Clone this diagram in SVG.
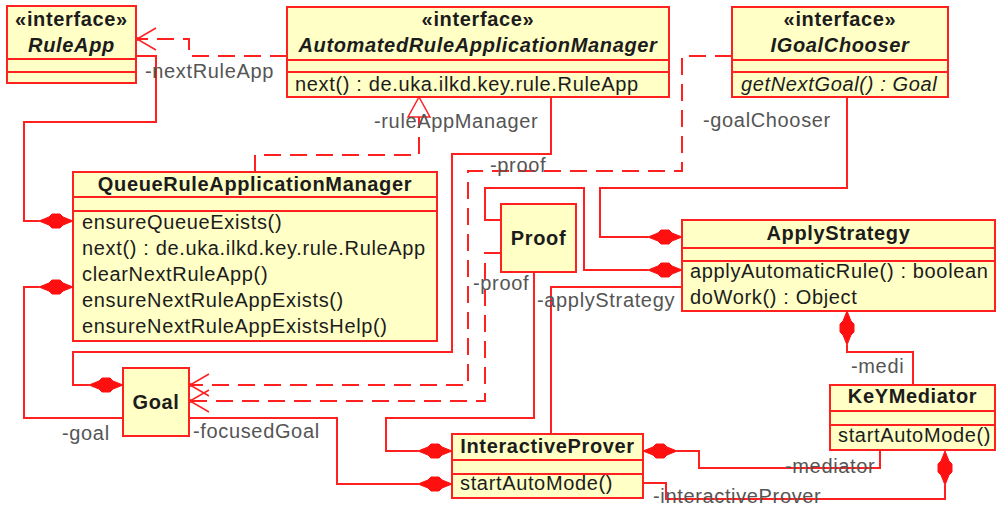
<svg xmlns="http://www.w3.org/2000/svg" width="996" height="511" viewBox="0 0 996 511">
  <style>
    .box { fill: #ffffc6; stroke: #ff2020; stroke-width: 2; }
    .div { stroke: #ff2020; stroke-width: 2; }
    text { font-family: "Liberation Sans", Arial, sans-serif; font-size: 20px; letter-spacing: 0.65px; fill: #1c1c1c; }
    .name { font-weight: bold; text-anchor: middle; }
    .abs { font-style: italic; }
    .lbl { fill: #555555; }
    .ln { fill: none; stroke: #ff2020; stroke-width: 2; }
    .dash { stroke-dasharray: 17 9; }
    .dia { fill: #ff1010; stroke: #ff1010; stroke-width: 1; }
    .open { fill: none; stroke: #ff2020; stroke-width: 1.5; }
  </style>
  <defs>
    <!-- filled composition diamond, tip at origin, pointing along +x -->
    <path id="dia" class="dia" d="M0,0 L10,-4 L13,-7 L21,-7 L24,-4 L34,0 L24,4 L21,7 L13,7 L10,4 Z"/>
    <!-- open arrowhead of a dependency, tip at origin, opening toward +x -->
    <g id="arr">
      <path class="open" d="M19,-11 L0,0 L19,11"/>
      <circle r="2" fill="#ff2020"/>
    </g>
  </defs>
  <rect width="996" height="511" fill="#ffffff"/>

  <!-- classes -->
  <g id="RuleApp">
    <rect class="box" x="7" y="6" width="129" height="77"/>
    <line class="div" x1="7" y1="59" x2="136" y2="59"/>
    <line class="div" x1="7" y1="72" x2="136" y2="72"/>
    <text class="name" x="71.5" y="26">«interface»</text>
    <text class="name abs" x="71.5" y="52">RuleApp</text>
  </g>

  <g id="AutomatedRuleApplicationManager">
    <rect class="box" x="287" y="7" width="382" height="90"/>
    <line class="div" x1="287" y1="60" x2="669" y2="60"/>
    <line class="div" x1="287" y1="72" x2="669" y2="72"/>
    <text class="name" x="478" y="26">«interface»</text>
    <text class="name abs" x="478" y="52">AutomatedRuleApplicationManager</text>
    <text x="295" y="91">next() : de.uka.ilkd.key.rule.RuleApp</text>
  </g>

  <g id="IGoalChooser">
    <rect class="box" x="732" y="7" width="216" height="90"/>
    <line class="div" x1="732" y1="60" x2="948" y2="60"/>
    <line class="div" x1="732" y1="72" x2="948" y2="72"/>
    <text class="name" x="840" y="26">«interface»</text>
    <text class="name abs" x="840" y="52">IGoalChooser</text>
    <text class="abs" x="741" y="91">getNextGoal() : Goal</text>
  </g>

  <g id="QueueRuleApplicationManager">
    <rect class="box" x="73" y="172" width="364" height="169"/>
    <line class="div" x1="73" y1="197" x2="437" y2="197"/>
    <line class="div" x1="73" y1="211" x2="437" y2="211"/>
    <text class="name" x="255" y="191">QueueRuleApplicationManager</text>
    <text x="82" y="229">ensureQueueExists()</text>
    <text x="82" y="255">next() : de.uka.ilkd.key.rule.RuleApp</text>
    <text x="82" y="281">clearNextRuleApp()</text>
    <text x="82" y="307">ensureNextRuleAppExists()</text>
    <text x="82" y="333">ensureNextRuleAppExistsHelp()</text>
  </g>

  <g id="Goal">
    <rect class="box" x="123" y="368" width="66" height="68"/>
    <text class="name" x="156" y="409">Goal</text>
  </g>

  <g id="Proof">
    <rect class="box" x="501" y="204" width="75" height="68"/>
    <text class="name" x="538.5" y="245">Proof</text>
  </g>

  <g id="ApplyStrategy">
    <rect class="box" x="682" y="220" width="313" height="91"/>
    <line class="div" x1="682" y1="248" x2="995" y2="248"/>
    <line class="div" x1="682" y1="261" x2="995" y2="261"/>
    <text class="name" x="838.5" y="240">ApplyStrategy</text>
    <text x="690" y="278">applyAutomaticRule() : boolean</text>
    <text x="690" y="304">doWork() : Object</text>
  </g>

  <g id="KeYMediator">
    <rect class="box" x="830" y="385" width="165" height="65"/>
    <line class="div" x1="830" y1="411" x2="995" y2="411"/>
    <line class="div" x1="830" y1="425" x2="995" y2="425"/>
    <text class="name" x="912.5" y="403">KeYMediator</text>
    <text x="838" y="442">startAutoMode()</text>
  </g>

  <g id="InteractiveProver">
    <rect class="box" x="452" y="434" width="191" height="64"/>
    <line class="div" x1="452" y1="460" x2="643" y2="460"/>
    <line class="div" x1="452" y1="474" x2="643" y2="474"/>
    <text class="name" x="547.5" y="453">InteractiveProver</text>
    <text x="460" y="490">startAutoMode()</text>
  </g>

  <!-- associations, dependencies and the realization -->
  <g id="connectors">
    <!-- AutomatedRuleApplicationManager uses RuleApp -->
    <path class="ln dash" d="M287,56 H189 V39 H138"/>
    <use href="#arr" transform="translate(137,39)"/>

    <!-- QueueRuleApplicationManager realizes AutomatedRuleApplicationManager -->
    <path class="ln dash" d="M255,172 V155 H419 V117"/>
    <polygon points="419,97 408,117 430,117" fill="#ffffff" stroke="#ff2020" stroke-width="1.5"/>

    <!-- ruleAppManager -->
    <path class="ln" d="M551,97 V154 H452 V352 H73 V385 H89"/>
    <use href="#dia" transform="translate(89,385)"/>

    <!-- nextRuleApp -->
    <path class="ln" d="M136,56 H156 V122 H24 V221 H39"/>
    <use href="#dia" transform="translate(39,221)"/>

    <!-- goal -->
    <path class="ln" d="M123,418 H24 V287 H39"/>
    <use href="#dia" transform="translate(39,287)"/>

    <!-- focusedGoal -->
    <path class="ln" d="M189,418 H337 V484 H418"/>
    <use href="#dia" transform="translate(418,484)"/>

    <!-- IGoalChooser uses Goal -->
    <path class="ln dash" d="M732,56 H682 V171 H468 V385 H191"/>
    <use href="#arr" transform="translate(190,385)"/>

    <!-- Proof uses Goal -->
    <path class="ln dash" d="M501,253 H485 V401 H191"/>
    <use href="#arr" transform="translate(190,401)"/>

    <!-- goalChooser -->
    <path class="ln" d="M847,97 V188 H600 V237 H648"/>
    <use href="#dia" transform="translate(648,237)"/>

    <!-- proof (ApplyStrategy) -->
    <path class="ln" d="M501,220 H485 V188 H584 V270 H648"/>
    <use href="#dia" transform="translate(648,270)"/>

    <!-- applyStrategy -->
    <path class="ln" d="M682,287 H551 V434"/>

    <!-- proof (InteractiveProver) -->
    <path class="ln" d="M534,272 V418 H386 V451 H418"/>
    <use href="#dia" transform="translate(418,451)"/>

    <!-- mediator -->
    <path class="ln" d="M880,450 V468 H699 V451 H677"/>
    <use href="#dia" transform="translate(643,451)"/>

    <!-- interactiveProver -->
    <path class="ln" d="M643,483 H666 V499 H945 V485"/>
    <use href="#dia" transform="translate(945,451) rotate(90)"/>

    <!-- medi -->
    <path class="ln" d="M913,385 V352 H847 V345"/>
    <use href="#dia" transform="translate(847,311) rotate(90)"/>
  </g>

  <!-- role names -->
  <g id="labels">
    <text class="lbl" x="145" y="78">-nextRuleApp</text>
    <text class="lbl" x="374" y="128">-ruleAppManager</text>
    <text class="lbl" x="703" y="127">-goalChooser</text>
    <text class="lbl" x="490" y="172">-proof</text>
    <text class="lbl" x="473" y="290">-proof</text>
    <text class="lbl" x="537" y="307">-applyStrategy</text>
    <text class="lbl" x="62" y="440">-goal</text>
    <text class="lbl" x="193" y="438">-focusedGoal</text>
    <text class="lbl" x="851" y="373">-medi</text>
    <text class="lbl" x="785" y="473">-mediator</text>
    <text class="lbl" x="653" y="503">-interactiveProver</text>
  </g>
</svg>
